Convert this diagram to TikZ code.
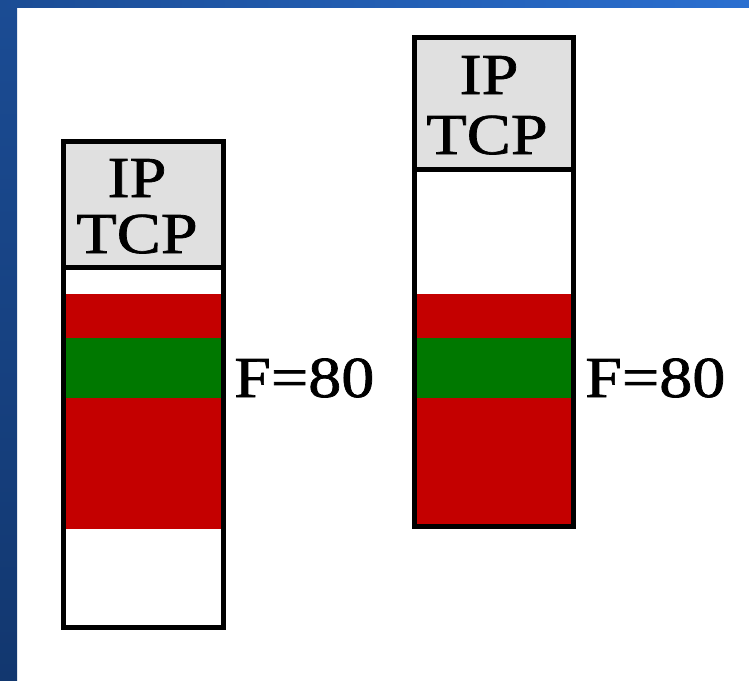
\documentclass[tikz,border=0pt]{standalone}
\usepackage{fontspec}
\setmainfont{Liberation Serif}
\newfontfamily\hdrfont[FakeStretch=1.14,FakeBold=1.2]{Liberation Serif}
\definecolor{pktred}{HTML}{C40000}
\definecolor{pktgreen}{HTML}{007800}
\definecolor{hdrgray}{HTML}{E0E0E0}
\definecolor{edgeA}{HTML}{1B4C94}
\definecolor{edgeB}{HTML}{12376F}
\definecolor{edgeC}{HTML}{2A6FD0}
\tikzset{
  lbl/.style={inner sep=0pt, font=\hdrfont\fontsize{58}{58}\selectfont},
  pktbox/.style={draw=black, line width=5pt, fill=none},
}
\begin{document}
\begin{tikzpicture}[x=1pt,y=-1pt]
\useasboundingbox (0,0) rectangle (749,680);
\fill[white] (0,0) rectangle (749,680);
% frame edges
\shade[top color=edgeA, bottom color=edgeB] (0,0) rectangle (17,680);
\shade[left color=edgeA, right color=edgeC] (0,0) rectangle (749,7);
% left packet
\fill[hdrgray] (63.5,141.5) rectangle (223.5,267.5);
\fill[pktred] (63.5,294) rectangle (223.5,338);
\fill[pktgreen] (63.5,338) rectangle (223.5,398);
\fill[pktred] (63.5,398) rectangle (223.5,529);
\draw[pktbox] (63.5,141.5) rectangle (223.5,627);
\draw[line width=5pt] (63.5,267.5) -- (223.5,267.5);
\node[lbl, anchor=base] (ipA) at (137,197) {IP};
\node[lbl, anchor=base] (tcpA) at (137,253) {TCP};
\node[lbl, anchor=base west] (fA) at (234,397) {F=80};
% right packet
\fill[hdrgray] (414.5,37) rectangle (573.5,169);
\fill[pktred] (414.5,294) rectangle (573.5,338);
\fill[pktgreen] (414.5,338) rectangle (573.5,398);
\fill[pktred] (414.5,398) rectangle (573.5,526.5);
\draw[pktbox] (414.5,37) rectangle (573.5,526.5);
\draw[line width=5pt] (414.5,169) -- (573.5,169);
\node[lbl, anchor=base] (ipB) at (489,94) {IP};
\node[lbl, anchor=base] (tcpB) at (487,154) {TCP};
\node[lbl, anchor=base west] (fB) at (585,397) {F=80};
\end{tikzpicture}
\end{document}
